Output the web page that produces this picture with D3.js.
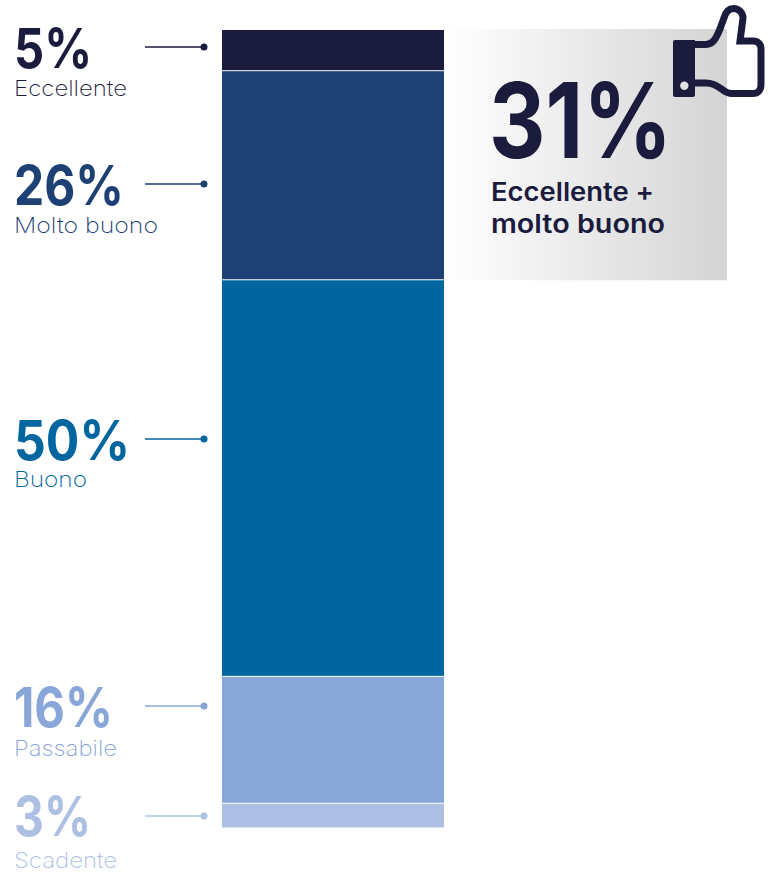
<!DOCTYPE html>
<html><head><meta charset="utf-8">
<script src="https://cdn.jsdelivr.net/npm/d3@7"></script>
<style>html,body{margin:0;background:#fff}svg{display:block}text{font-family:Inter,sans-serif}</style>
</head><body><svg id="c" width="770" height="873"></svg>
<script>
const categories=["Eccellente","Molto buono","Buono","Passabile","Scadente"];
const values=[5.1,26.2,49.7,15.9,3.1];
const pctLabels=["5%","26%","50%","16%","3%"];
const colors=["#1b1b3e","#1e4175","#00669f","#88a6d7","#adc0e4"];
const calloutValue="31%";
const calloutLines=["Eccellente +","molto buono"];
// layout of the annotations
const leaderY=[47,184,439,706,816];
const subtitleY=[96,233,487,756,868];
const pctY=[68,205,460,727,836];
const pctW=[78,110,116,99,77];
const subW=[113,144,73,103,103];

const svg=d3.select("#c");
const y=d3.scaleLinear().domain([0,d3.sum(values)]).range([30,828]);
const x=d3.scaleBand().domain(["all"]).range([222,444]);
const cum=d3.cumsum(values);
const defs=svg.append("defs");
const g=defs.append("linearGradient").attr("id","gr");
g.append("stop").attr("offset",0).attr("stop-color","#fff");
g.append("stop").attr("offset",1).attr("stop-color","#d4d4d4");
svg.append("rect").attr("x",444).attr("y",y(0)-1).attr("width",283).attr("height",y(cum[1])-y(0)+1.5).attr("fill","url(#gr)");

svg.selectAll("rect.seg").data(values).join("rect").attr("class","seg")
 .attr("x",x("all")).attr("width",x.bandwidth())
 .attr("y",(d,i)=>y(cum[i]-d)+(i?0.5:0))
 .attr("height",(d,i)=>y(cum[i])-y(cum[i]-d)-(i?1:0.5))
 .attr("fill",(d,i)=>colors[i]);

const lab=svg.selectAll("g.lab").data(values).join("g").attr("class","lab");
lab.append("line").attr("x1",145).attr("x2",204).attr("y1",(d,i)=>leaderY[i]).attr("y2",(d,i)=>leaderY[i]).attr("stroke",(d,i)=>colors[i]).attr("stroke-width",1.5);
lab.append("circle").attr("cx",204).attr("cy",(d,i)=>leaderY[i]).attr("r",3.5).attr("fill",(d,i)=>colors[i]);
lab.append("text").attr("x",14).attr("y",(d,i)=>pctY[i]).attr("font-size",55).attr("font-weight",700).attr("textLength",(d,i)=>pctW[i]).attr("lengthAdjust","spacingAndGlyphs").attr("fill",(d,i)=>colors[i]).text((d,i)=>pctLabels[i]);
lab.append("text").attr("x",14).attr("y",(d,i)=>subtitleY[i]).attr("font-size",22).attr("font-weight",200).attr("textLength",(d,i)=>subW[i]).attr("lengthAdjust","spacingAndGlyphs").attr("fill",(d,i)=>colors[i]).text((d,i)=>categories[i]);

svg.append("text").attr("x",489).attr("y",158).attr("font-size",104).attr("font-weight",700).attr("textLength",183).attr("lengthAdjust","spacingAndGlyphs").attr("fill","#1b1b3e").text(calloutValue);
svg.selectAll("text.cl").data(calloutLines).join("text").attr("class","cl").attr("x",491).attr("y",(d,i)=>201+i*32).attr("font-size",26).attr("font-weight",600).attr("textLength",(d,i)=>[163,174][i]).attr("lengthAdjust","spacingAndGlyphs").attr("fill","#1b1b3e").text(d=>d);

svg.append("path").attr("d","M694 44.500 H706 C714 44.500 717 36 720 29 L724 18 C726 11 729 8.500 733.500 8.500 C739 8.500 743 13 743 18 L740 41 H753 C758 41 761 44 761 49 V85 C761 90 758 93.500 753 93.500 H731 C722 93.500 720 83 706 83 H694").attr("fill","none").attr("stroke","#1b1b3e").attr("stroke-width",7);
svg.append("path").attr("d","M675 40 H695 V95 A2 2 0 0 1 693 97 H675 A2 2 0 0 1 673 95 V42 A2 2 0 0 1 675 40 Z").attr("fill","#1b1b3e");
svg.append("circle").attr("cx",684.3).attr("cy",85.7).attr("r",4.2).attr("fill","#e2e2e2");
</script></body></html>
